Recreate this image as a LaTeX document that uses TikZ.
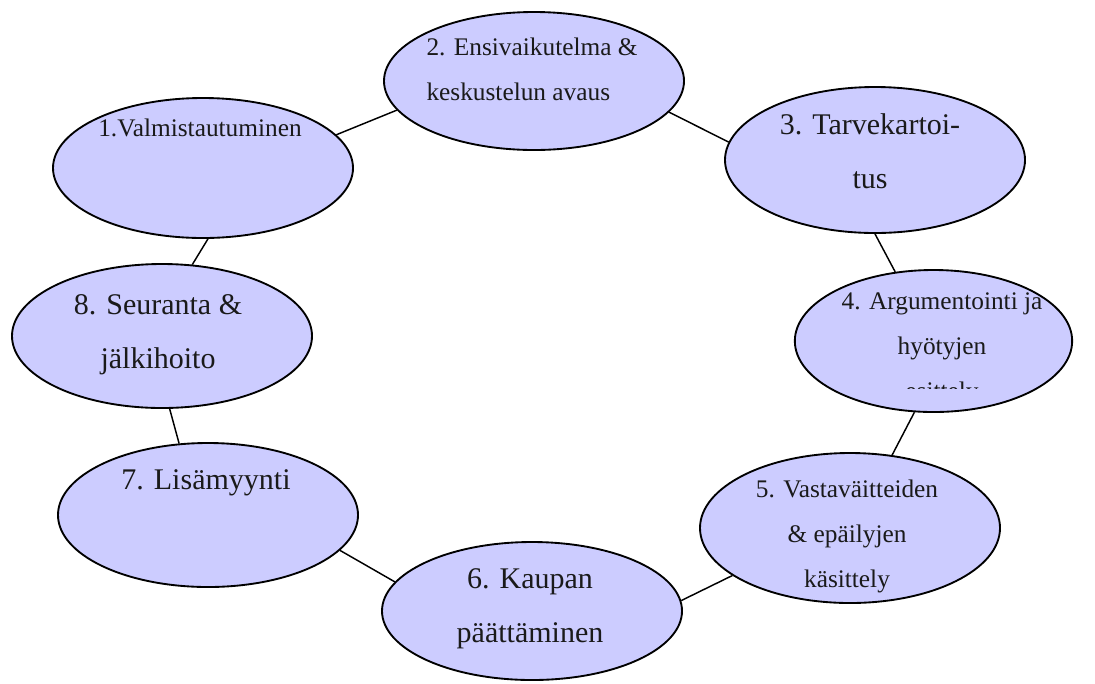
\documentclass[tikz,border=0pt]{standalone}
\usepackage{fontspec}
\setmainfont{Liberation Serif}
\usetikzlibrary{shapes.geometric}
\definecolor{lavender}{HTML}{CCCCFF}
\definecolor{ink}{HTML}{1A1A1A}
\tikzset{every picture/.style={line width=0.75pt}}
\tikzset{
  phase/.style={ellipse, draw, fill=lavender, line width=1.4pt, inner sep=0pt},
  small/.style={text=ink, font=\fontsize{19}{33.5}\selectfont, align=center, anchor=base, inner sep=0pt},
  big/.style={text=ink, font=\fontsize{22.5}{40}\selectfont, align=center, anchor=base, inner sep=0pt},
  link/.style={line width=1.1pt}
}

\begin{document}
\begin{tikzpicture}[x=0.75pt,y=0.75pt,yscale=-1,xscale=1]
        \useasboundingbox (0,0) rectangle (1095,683);

        %Shape: Ellipse [phases]
        \node[phase, minimum width=225pt, minimum height=105pt] (e1) at (203,168) {};
        \node[phase, minimum width=225pt, minimum height=103.5pt] (e2) at (534,81) {};
        \node[phase, minimum width=225pt, minimum height=109.5pt] (e3) at (875,160) {};
        \node[phase, minimum width=208pt, minimum height=106.5pt] (e4) at (933.5,341) {};
        \node[phase, minimum width=225pt, minimum height=112.5pt] (e5) at (850,528) {};
        \node[phase, minimum width=225pt, minimum height=103.5pt] (e6) at (532,611) {};
        \node[phase, minimum width=225pt, minimum height=108pt] (e7) at (208,515) {};
        \node[phase, minimum width=225pt, minimum height=108pt] (e8) at (162,336) {};

        %Straight Lines [ring]
        \draw[link] (e1.14) -- (e2.192);
        \draw[link] (e2.347) -- (e3.173);
        \draw[link] (e3.270) -- (e4.119);
        \draw[link] (e4.255) -- (e5.60);
        \draw[link] (e5.202) -- (e6.4);
        \draw[link] (e6.168) -- (e7.345);
        \draw[link] (e7.112) -- (e8.276);
        \draw[link] (e8.67) -- (e1.274);

        %Text (base = last line)
        \node[small] (l1) at (200,136) {1.Valmistautuminen};
        \node[small, anchor=base west, align=left] (l2) at (426,100) {2. Ensivaikutelma \&\\keskustelun avaus};
        \node[big] (l3) at (870,188) {3. Tarvekartoi-\\tus};
        \begin{scope}
          \clip (790,265) rectangle (1075,388);
          \node[small] (l4) at (942,399) {4. Argumentointi ja\\hyötyjen\\esittely};
        \end{scope}
        \node[small] (l5) at (847,587) {5. Vastaväitteiden\\\& epäilyjen\\käsittely};
        \node[big] (l6) at (530,642) {6. Kaupan\\päättäminen};
        \node[big] (l7) at (206,489) {7. Lisämyynti};
        \node[big] (l8) at (158,368) {8. Seuranta \&\\jälkihoito};

\end{tikzpicture}
\end{document}
